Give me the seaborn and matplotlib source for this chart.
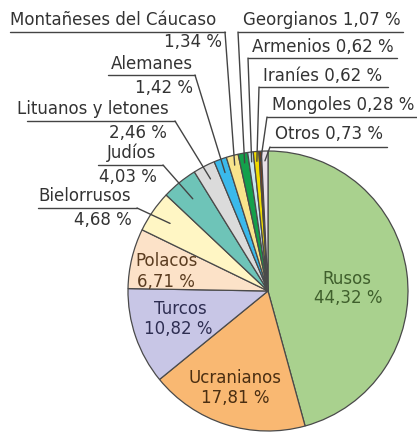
import matplotlib
matplotlib.use("Agg")
import matplotlib.pyplot as plt
import seaborn as sns
import numpy as np

# datos
grupos = ["Rusos", "Ucranianos", "Turcos", "Polacos", "Bielorrusos", "Judíos",
          "Lituanos y letones", "Alemanes", "Montañeses del Cáucaso", "Georgianos",
          "Armenios", "Iraníes", "Mongoles", "Otros"]
porcentajes = [44.32, 17.81, 10.82, 6.71, 4.68, 4.03, 2.46, 1.42, 1.34, 1.07,
               0.62, 0.62, 0.28, 0.73]
colores = ["#a9d18e", "#f9b872", "#c8c6e6", "#fce2c8", "#fff6c4", "#6ec4b8",
           "#dbdbdb", "#3ab9eb", "#f9e48c", "#14a04b", "#c8e6f0", "#f0dc00",
           "#7a3c14", "#e8e0e8"]

sns.set_theme(style="white")
plt.rcParams['font.family'] = ['DejaVu Sans']

W, H = 417, 432
CX, CY, R = 268, 291, 140   # centro y radio en pixeles


def P(px, py):
    """pixel (origen arriba-izq) -> coordenadas de datos"""
    return (px - CX) / R, (CY - py) / R


def fmt(v):
    return f"{v:.2f}".replace(".", ",") + " %"


fig = plt.figure(figsize=(W / 100, H / 100), dpi=100)
ax = fig.add_axes([(CX - R) / W, (H - CY - R) / H, 2 * R / W, 2 * R / H])

wedges, _ = ax.pie(porcentajes, colors=colores, startangle=90, counterclock=False,
                   radius=1, wedgeprops=dict(edgecolor="#4a4a4a", linewidth=0.9))
ax.set_xlim(-1, 1)
ax.set_ylim(-1, 1)
ax.set_aspect('equal')
ax.axis('off')

FS = 12
TXT = "#333333"

# etiquetas interiores: (centro nombre, centro porcentaje, color)
interiores = {
    "Rusos": ((347, 279), (348, 298), "#3f5f2c"),
    "Ucranianos": ((235, 378), (235, 398), "#4a2e12"),
    "Turcos": ((180, 309), (178, 329), "#2e2e52"),
    "Polacos": ((167, 261), (166, 282), "#5a3c20"),
}
for g, (p1, p2, c) in interiores.items():
    v = porcentajes[grupos.index(g)]
    ax.text(*P(*p1), g, ha="center", va="center", fontsize=FS, color=c)
    ax.text(*P(*p2), fmt(v), ha="center", va="center", fontsize=FS, color=c)

# etiquetas exteriores
# (grupo, una_linea, x texto, x pct, y nombre, y pct, subrayado y, x0, x1, inicio guia x, r fin)
exteriores = [
    ("Montañeses del Cáucaso", False, 10, 222, 20, 42, 32, 10, 225, 225, 0.93),
    ("Georgianos", True, 243, None, 20, None, 32, 238, 403, 238, 0.93),
    ("Armenios", True, 252, None, 47, None, 58, 248, 397, 248, 0.93),
    ("Iraníes", True, 263, None, 76, None, 87, 259, 388, 259, 0.93),
    ("Mongoles", True, 272, None, 105, None, 117, 267, 417, 267, 0.93),
    ("Otros", True, 275, None, 134, None, 147, 270, 387, 270, 0.93),
    ("Alemanes", False, 193, 193, 64, 88, 75, 108, 195, 195, 0.9),
    ("Lituanos y letones", False, 17, 167, 109, 133, 121, 27, 175, 175, 0.9),
    ("Judíos", False, 107, 157, 153, 177, 165, 98, 163, 163, 0.85),
    ("Bielorrusos", False, 38, 132, 196, 220, 208, 38, 137, 137, 0.85),
]
for g, una, tx, px2, y1, y2, uy, x0, x1, gx, rf in exteriores:
    i = grupos.index(g)
    v = porcentajes[i]
    if una:
        ax.text(*P(tx, y1), f"{g} {fmt(v)}", ha="left", va="center",
                fontsize=FS, color=TXT)
    else:
        ha1 = "right" if g == "Alemanes" else "left"
        ax.text(*P(tx, y1), g, ha=ha1, va="center", fontsize=FS, color=TXT)
        ax.text(*P(px2, y2), fmt(v), ha="right", va="center", fontsize=FS, color=TXT)
    ux0, uy0 = P(x0, uy)
    ux1, _ = P(x1, uy)
    ax.plot([ux0, ux1], [uy0, uy0], color="#444444", lw=1, clip_on=False)
    w = wedges[i]
    ang = np.deg2rad((w.theta1 + w.theta2) / 2)
    gx0, gy0 = P(gx, uy)
    ax.plot([gx0, rf * np.cos(ang)], [gy0, rf * np.sin(ang)],
            color="#444444", lw=1, clip_on=False)

fig.savefig("out.png", dpi=100)
